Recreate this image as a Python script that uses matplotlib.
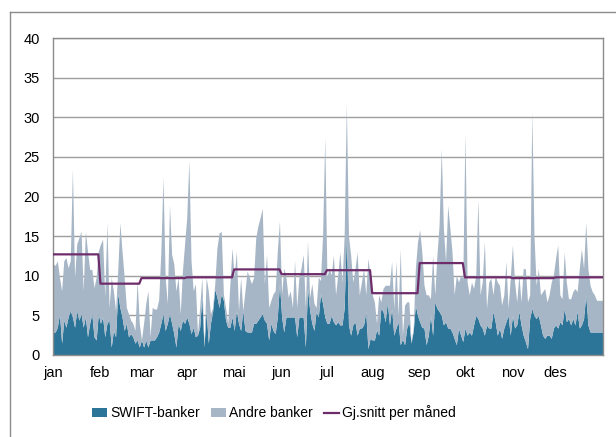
import matplotlib
matplotlib.use("Agg")
import matplotlib.pyplot as plt
from matplotlib.patches import Patch
from matplotlib.lines import Line2D
import numpy as np

plt.rcParams['font.family'] = ['Liberation Sans', 'DejaVu Sans']

months = ["jan", "feb", "mar", "apr", "mai", "jun", "jul", "aug", "sep", "okt", "nov", "des"]
month_start = [0, 22, 41, 62, 84, 106, 127, 148, 170, 191, 213, 233]
month_avg = [12.7, 9.0, 9.7, 9.8, 10.8, 10.2, 10.7, 7.8, 11.6, 9.8, 9.7, 9.8]

# Total (SWIFT-banker + Andre banker) per business day
total = [
    # jan
    11.5, 11.3, 11.9, 9.8, 8.1, 11.9, 12.3, 11.0, 11.9, 23.5, 9.8, 14.0, 14.8, 15.6, 8.1, 15.6, 13.1, 10.8, 10.8, 8.5, 9.8, 13.1,
    # feb
    14.0, 14.6, 7.3, 16.7, 6.0, 9.8, 8.1, 5.6, 10.6, 16.7, 13.1, 9.8, 6.0, 5.2, 4.4, 4.0, 3.1, 9.4, 4.0,
    # mar
    1.9, 4.0, 6.5, 8.1, 2.3, 6.0, 5.8, 5.8, 7.0, 13.0, 22.5, 9.8, 6.5, 19.0, 12.7, 11.5, 8.1, 9.8, 5.2, 10.6, 14.0,
    # apr
    17.3, 24.6, 11.9, 8.1, 9.0, 2.7, 6.0, 9.8, 1.2, 9.8, 8.1, 5.2, 6.0, 9.0, 13.5, 15.4, 15.6, 7.7, 6.0, 4.0, 9.0, 13.5,
    # mai
    9.8, 13.1, 5.6, 9.8, 5.6, 8.1, 10.6, 9.8, 9.0, 9.8, 14.8, 16.3, 17.3, 18.5, 9.0, 12.7, 6.0, 6.9, 7.7, 8.1, 13.1, 16.9,
    # jun
    7.7, 11.0, 9.8, 7.3, 8.1, 6.0, 11.9, 6.0, 9.8, 11.0, 12.7, 6.0, 14.4, 7.3, 9.0, 6.5, 6.0, 9.8, 9.4, 15.2, 27.5,
    # jul
    9.8, 11.0, 10.1, 12.6, 7.6, 10.1, 13.0, 9.2, 15.1, 31.7, 15.0, 12.6, 9.2, 10.9, 13.0, 7.6, 9.2, 10.9, 7.6, 12.2, 10.1,
    # aug
    7.6, 6.7, 4.0, 7.6, 6.7, 8.4, 8.8, 8.8, 8.8, 11.8, 5.9, 11.8, 5.0, 13.4, 2.5, 6.3, 6.7, 6.7, 1.7, 3.4, 10.9, 14.3,
    # sep
    15.8, 13.0, 8.8, 7.6, 7.6, 7.1, 12.6, 7.6, 12.6, 16.4, 26.0, 16.0, 11.8, 18.9, 16.0, 13.0, 7.6, 10.1, 9.2, 10.1, 9.7,
    # okt
    28.0, 9.2, 7.6, 9.2, 8.4, 10.1, 19.7, 7.6, 9.2, 14.3, 5.9, 9.2, 9.7, 7.6, 10.1, 9.2, 8.8, 6.3, 7.6, 11.8, 5.9, 9.7,
    # nov
    13.9, 9.2, 6.7, 10.1, 6.7, 10.9, 10.9, 6.7, 7.6, 30.7, 15.1, 8.8, 10.9, 7.6, 8.0, 8.4, 6.7, 7.6, 9.2, 10.1,
    # des
    12.2, 13.9, 7.6, 7.1, 13.0, 9.2, 7.1, 7.1, 8.0, 8.4, 8.0, 10.9, 13.4, 10.9, 16.8, 10.9, 8.8, 8.0, 7.6, 6.9, 6.9, 6.9, 6.9,
]

swift = [
    # jan
    2.9, 2.9, 3.5, 5.2, 1.5, 4.4, 3.5, 4.8, 5.6, 4.8, 3.5, 5.6, 4.4, 5.2, 3.5, 4.8, 2.3, 4.0, 5.2, 2.3, 1.9, 5.2,
    # feb
    4.0, 4.8, 2.3, 4.0, 4.4, 1.0, 3.1, 2.3, 7.7, 6.0, 4.8, 3.1, 4.0, 2.3, 2.7, 2.3, 1.5, 1.9, 1.0,
    # mar
    1.9, 1.0, 1.9, 1.0, 1.9, 1.9, 1.9, 2.3, 2.9, 4.0, 5.2, 3.1, 4.0, 5.2, 4.0, 2.7, 1.0, 4.0, 3.1, 4.4, 4.0,
    # apr
    4.8, 4.0, 2.7, 3.5, 2.3, 2.5, 3.5, 7.3, 1.0, 5.6, 1.5, 4.0, 5.5, 8.3, 7.3, 6.0, 7.7, 6.9, 4.4, 3.5, 3.5, 4.8,
    # mai
    3.1, 5.6, 4.0, 3.1, 5.6, 3.1, 2.9, 2.9, 2.9, 4.0, 4.0, 4.4, 4.8, 5.2, 4.4, 4.0, 1.9, 4.0, 3.1, 2.7, 4.8, 9.0,
    # jun
    4.8, 2.9, 4.8, 4.8, 4.8, 4.8, 4.8, 2.3, 4.8, 4.8, 4.8, 1.0, 8.5, 5.6, 4.0, 3.1, 5.5, 4.8, 7.7, 6.5, 4.8,
    # jul
    4.0, 4.0, 5.0, 4.2, 3.8, 4.2, 3.8, 3.8, 5.9, 15.5, 3.8, 2.5, 3.8, 4.2, 2.5, 3.4, 3.4, 3.8, 5.5, 0.8, 2.1,
    # aug
    1.9, 1.9, 3.2, 2.5, 5.9, 5.5, 4.2, 6.7, 3.8, 5.9, 2.5, 3.4, 4.2, 1.3, 2.0, 1.3, 3.4, 4.2, 1.5, 3.0, 6.3, 5.0,
    # sep
    4.2, 3.5, 3.4, 1.3, 2.5, 5.0, 2.5, 6.7, 5.9, 5.5, 5.0, 3.8, 4.2, 3.4, 3.4, 2.9, 2.1, 1.3, 3.4, 2.5, 1.7,
    # okt
    3.4, 2.5, 2.9, 2.5, 3.8, 5.0, 4.6, 3.8, 3.4, 2.5, 3.8, 3.4, 3.4, 5.5, 4.2, 2.5, 3.4, 2.1, 3.4, 4.2, 5.0, 2.5,
    # nov
    5.0, 3.4, 3.8, 5.5, 3.8, 2.5, 1.7, 0.8, 4.6, 5.9, 5.0, 4.6, 5.0, 3.8, 2.5, 2.1, 2.5, 2.5, 2.1, 3.4,
    # des
    3.8, 3.4, 4.2, 3.8, 5.9, 4.2, 4.6, 3.8, 4.6, 3.8, 5.5, 3.4, 3.8, 4.6, 7.6, 3.8, 2.9, 2.9, 2.9, 2.9, 2.9, 2.9, 2.9,
]

c_swift = "#2C7598"
c_andre = "#A6B6C6"
c_avg = "#6E2C6B"
c_grid = "#9E9E9E"

n = len(total)
x = np.arange(n)
tot = np.array(total)
sw = np.minimum(np.array(swift), tot)

# monthly average as a daily series
bounds = month_start + [n]
avg_daily = np.zeros(n)
for k in range(12):
    avg_daily[bounds[k]:bounds[k + 1]] = month_avg[k]

fig = plt.figure(figsize=(6.16, 4.37), dpi=100)
ax = fig.add_axes([53 / 616, 1 - 355 / 437, 550 / 616, 317 / 437])

ax.fill_between(x, 0, sw, color=c_swift, linewidth=0, zorder=2)
ax.fill_between(x, sw, tot, color=c_andre, linewidth=0, zorder=2)
ax.plot(x, avg_daily, color=c_avg, linewidth=1.6, zorder=3)

ax.set_xlim(0, n - 1)
ax.set_ylim(0, 40)
ax.set_yticks(np.arange(0, 41, 5))
ax.set_xticks(month_start)
ax.set_xticklabels(months)
ax.tick_params(axis='both', length=0, labelsize=10.5, colors="#000000")
ax.tick_params(axis='y', pad=9.5)
ax.tick_params(axis='x', pad=8)
ax.grid(axis='y', color=c_grid, linewidth=1.0, zorder=1)
ax.set_axisbelow(True)
for s in ax.spines.values():
    s.set_color("#8C8C8C")
    s.set_linewidth(1.0)

# outer chart frame (partially visible)
fig.add_artist(Line2D([10 / 616, 10 / 616], [0, 1 - 12 / 437], transform=fig.transFigure,
                      color="#8C8C8C", linewidth=1.0))
fig.add_artist(Line2D([10 / 616, 1], [1 - 12 / 437, 1 - 12 / 437], transform=fig.transFigure,
                      color="#8C8C8C", linewidth=1.0))

handles = [Patch(facecolor=c_swift, edgecolor='none', label="SWIFT-banker"),
           Patch(facecolor=c_andre, edgecolor='none', label="Andre banker"),
           Line2D([0], [0], color=c_avg, linewidth=1.6, label="Gj.snitt per måned")]
fig.legend(handles=handles, loc='center', bbox_to_anchor=(274 / 616, 1 - 413 / 437), ncol=3,
           frameon=False, fontsize=10, handlelength=1.1, handleheight=0.6,
           handletextpad=0.2, columnspacing=0.8)

fig.savefig("out.png", dpi=100)
